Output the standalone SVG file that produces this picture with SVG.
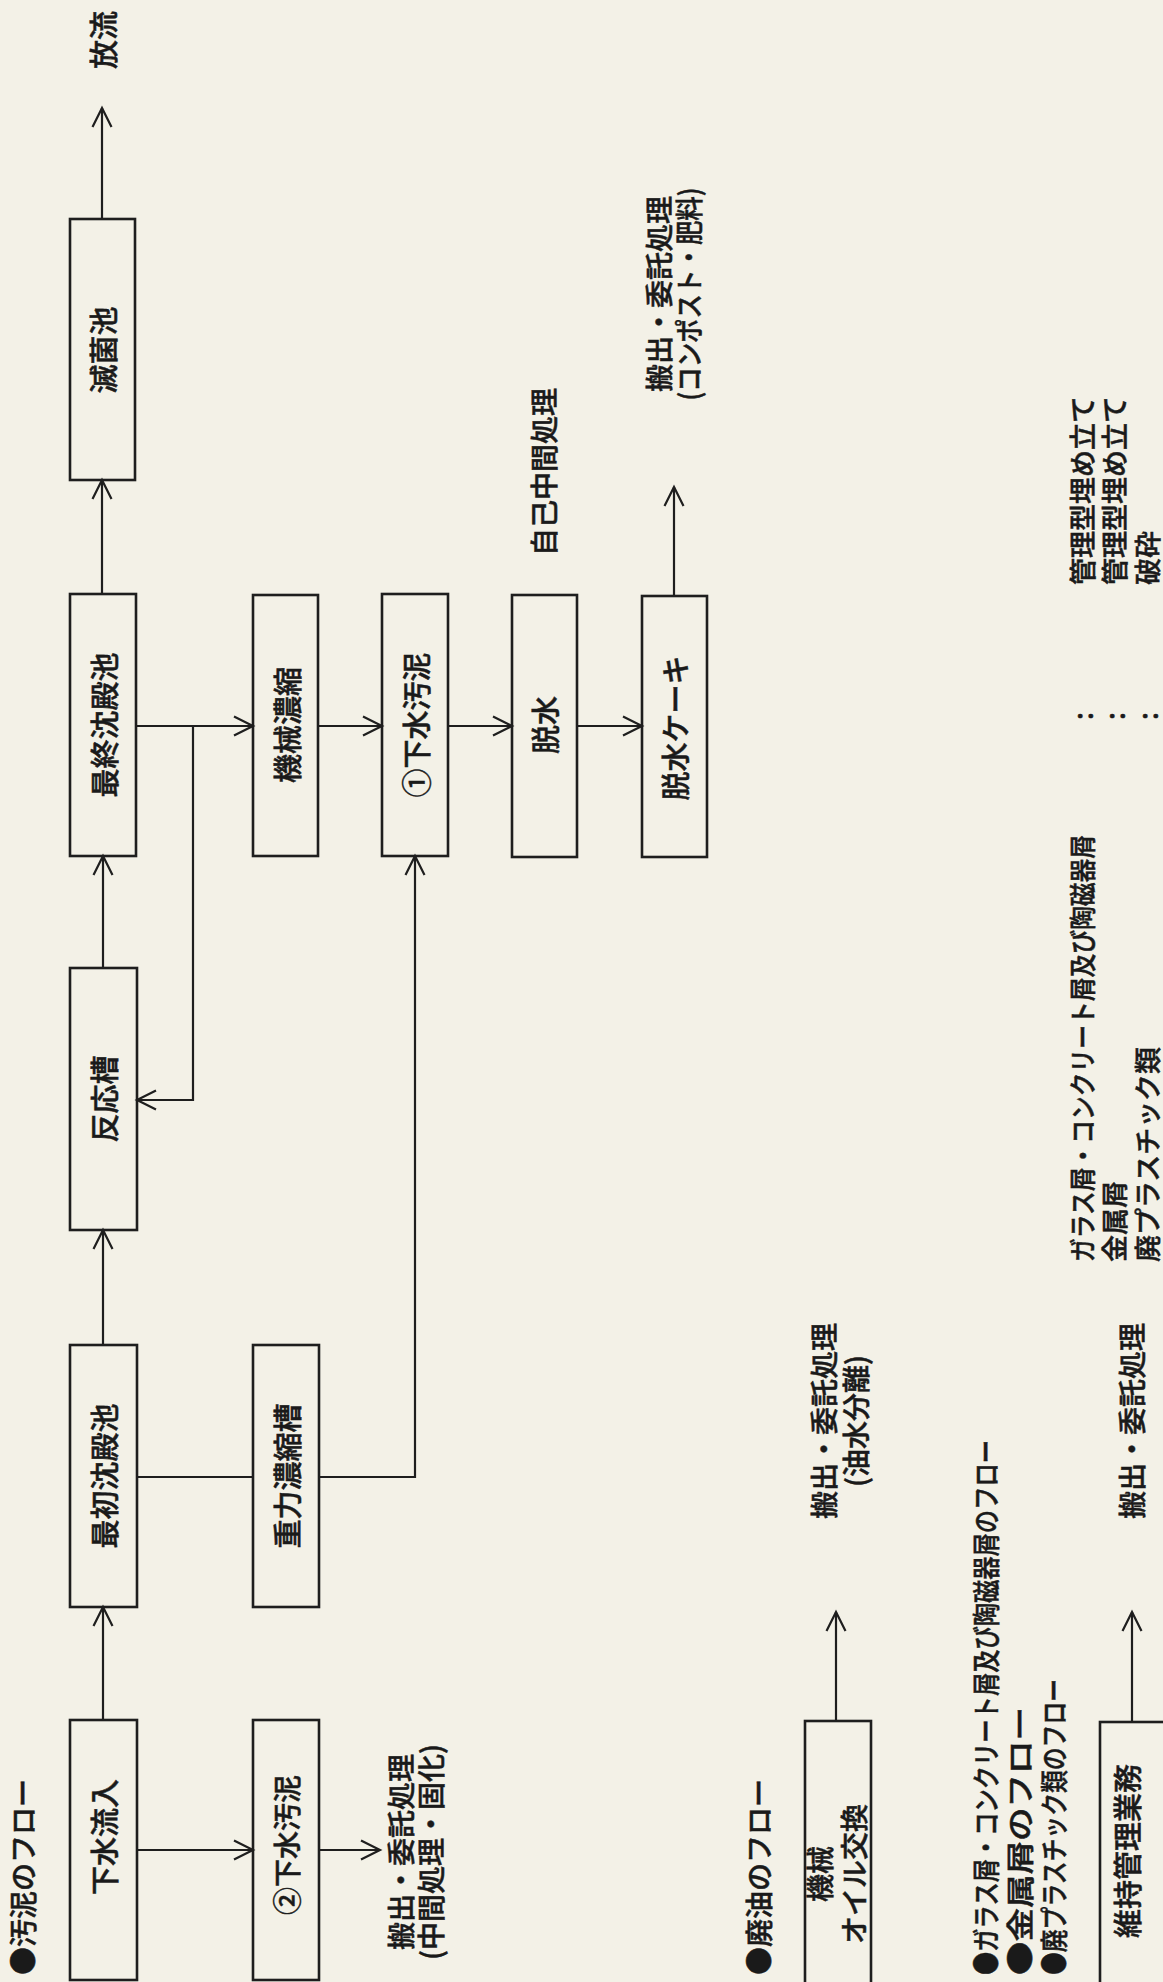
<svg xmlns="http://www.w3.org/2000/svg" width="1163" height="1982" viewBox="0 0 1163 1982">
<style>
.bg{fill:#f3f1e7}
.box{fill:none;stroke:#1e1e1e;stroke-width:2.6}
.conn{fill:none;stroke:#1e1e1e;stroke-width:2.2}
.arr{marker-end:url(#ah)}
text{font-family:"Noto Sans CJK JP","Noto Sans",sans-serif;fill:#1a1a1a;font-weight:500;stroke:#1a1a1a;stroke-width:0.5}
.c{text-anchor:middle;dominant-baseline:central}
.s{text-anchor:start;dominant-baseline:central}
.f29{font-size:29px}
.f28{font-size:28px}
.f27{font-size:27px}
</style>
<defs>
<marker id="ah" markerUnits="userSpaceOnUse" markerWidth="24" markerHeight="24" viewBox="0 0 24 24" refX="21" refY="12" orient="auto">
<path d="M2,2.5 L21,12 L2,21.5" fill="none" stroke="#1e1e1e" stroke-width="2.2"/>
</marker>
</defs>
<rect class="bg" x="0" y="0" width="1163" height="1982"/>

<g id="connectors">
<path class="conn arr" d="M103,1720 V1607"/>
<path class="conn arr" d="M137,1850 H253"/>
<path class="conn arr" d="M319,1850 H380"/>
<path class="conn arr" d="M103,1345 V1230"/>
<path class="conn" d="M137,1477 H253"/>
<path class="conn arr" d="M319,1477 H415 V856"/>
<path class="conn arr" d="M103,968 V856"/>
<path class="conn arr" d="M136,726 H253"/>
<path class="conn arr" d="M193,726 V1100 H137"/>
<path class="conn arr" d="M102,594 V480"/>
<path class="conn arr" d="M102,219 V108"/>
<path class="conn arr" d="M318,726 H382"/>
<path class="conn arr" d="M448,726 H512"/>
<path class="conn arr" d="M577,726 H642"/>
<path class="conn arr" d="M674,596 V487"/>
<path class="conn arr" d="M836,1721 V1612"/>
<path class="conn arr" d="M1132,1722 V1612"/>
</g>

<g id="title-sludge"><text class="s f28" transform="translate(22,1975) rotate(-90)">●汚泥のフロー</text></g>

<g id="n-gesui-ryunyu"><rect class="box" x="70" y="1720" width="67" height="260"/><text class="c f29" transform="translate(103,1837) rotate(-90)">下水流入</text></g>
<g id="n-gesui-odei2"><rect class="box" x="253" y="1720" width="66" height="260"/><text class="c f28" transform="translate(286,1845) rotate(-90)">②下水汚泥</text></g>
<g id="n-out-sludge2"><text class="c f28" transform="translate(415,1852) rotate(-90)"><tspan x="0" y="-15">搬出・委託処理</tspan><tspan x="0" y="15">(中間処理・固化)</tspan></text></g>

<g id="n-saisho"><rect class="box" x="70" y="1345" width="67" height="262"/><text class="c f29" transform="translate(103,1476) rotate(-90)">最初沈殿池</text></g>
<g id="n-juryoku"><rect class="box" x="253" y="1345" width="66" height="262"/><text class="c f29" transform="translate(286,1476) rotate(-90)">重力濃縮槽</text></g>
<g id="n-hannou"><rect class="box" x="70" y="968" width="67" height="262"/><text class="c f29" transform="translate(103,1099) rotate(-90)">反応槽</text></g>
<g id="n-saishu"><rect class="box" x="70" y="594" width="66" height="262"/><text class="c f29" transform="translate(103,725) rotate(-90)">最終沈殿池</text></g>
<g id="n-kikai-noshuku"><rect class="box" x="253" y="595" width="65" height="261"/><text class="c f29" transform="translate(286,725) rotate(-90)">機械濃縮</text></g>
<g id="n-gesui-odei1"><rect class="box" x="382" y="594" width="66" height="262"/><text class="c f29" transform="translate(415,725) rotate(-90)">①下水汚泥</text></g>
<g id="n-dassui"><rect class="box" x="512" y="595" width="65" height="262"/><text class="c f29" transform="translate(544,725) rotate(-90)">脱水</text></g>
<g id="n-dassui-cake"><rect class="box" x="642" y="596" width="65" height="261"/><text class="c f29" transform="translate(674,728) rotate(-90)">脱水ケーキ</text></g>
<g id="n-mekkin"><rect class="box" x="70" y="219" width="65" height="261"/><text class="c f29" transform="translate(102,350) rotate(-90)">滅菌池</text></g>
<g id="n-horyu"><text class="c f29" transform="translate(102,40) rotate(-90)">放流</text></g>
<g id="n-jiko"><text class="c f28" transform="translate(543,472) rotate(-90)">自己中間処理</text></g>
<g id="n-out-cake"><text class="c f28" transform="translate(673,294) rotate(-90)"><tspan x="0" y="-15">搬出・委託処理</tspan><tspan x="0" y="15" textLength="213" lengthAdjust="spacingAndGlyphs">(コンポスト・肥料)</tspan></text></g>

<g id="title-oil"><text class="s f28" transform="translate(758,1975) rotate(-90)">●廃油のフロー</text></g>
<g id="n-oil"><rect class="box" x="805" y="1721" width="66" height="275"/><text class="c f28" transform="translate(836,1874) rotate(-90)"><tspan x="0" y="-17">機械</tspan><tspan x="0" y="17">オイル交換</tspan></text></g>
<g id="n-out-oil"><text class="c f28" transform="translate(839,1421) rotate(-90)"><tspan x="0" y="-16">搬出・委託処理</tspan><tspan x="0" y="16">(油水分離)</tspan></text></g>

<g id="title-waste">
<text class="s f28" transform="translate(985,1975) rotate(-90)" textLength="535" lengthAdjust="spacingAndGlyphs">●ガラス屑・コンクリート屑及び陶磁器屑のフロー</text>
<text class="s f28" transform="translate(1019,1975) rotate(-90)" textLength="268" lengthAdjust="spacingAndGlyphs">●金属屑のフロー</text>
<text class="s f28" transform="translate(1053,1975) rotate(-90)" textLength="296" lengthAdjust="spacingAndGlyphs">●廃プラスチック類のフロー</text>
</g>
<g id="n-iji"><rect class="box" x="1100" y="1722" width="70" height="275"/><text class="c f29" transform="translate(1126,1851) rotate(-90)">維持管理業務</text></g>
<g id="n-out-iji"><text class="c f28" transform="translate(1131,1421) rotate(-90)">搬出・委託処理</text></g>

<g id="list">
<text class="s f27" transform="translate(1081,1262) rotate(-90)" textLength="427" lengthAdjust="spacingAndGlyphs">ガラス屑・コンクリート屑及び陶磁器屑</text>
<text class="s f27" transform="translate(1113,1262) rotate(-90)">金属屑</text>
<text class="s f27" transform="translate(1146,1262) rotate(-90)" textLength="215" lengthAdjust="spacingAndGlyphs">廃プラスチック類</text>
<text class="c f27" transform="translate(1081,716) rotate(-90)">:</text>
<text class="c f27" transform="translate(1113,716) rotate(-90)">:</text>
<text class="c f27" transform="translate(1146,716) rotate(-90)">:</text>
<text class="s f27" transform="translate(1081,585) rotate(-90)">管理型埋め立て</text>
<text class="s f27" transform="translate(1113,585) rotate(-90)">管理型埋め立て</text>
<text class="s f27" transform="translate(1146,585) rotate(-90)">破砕</text>
</g>
</svg>
